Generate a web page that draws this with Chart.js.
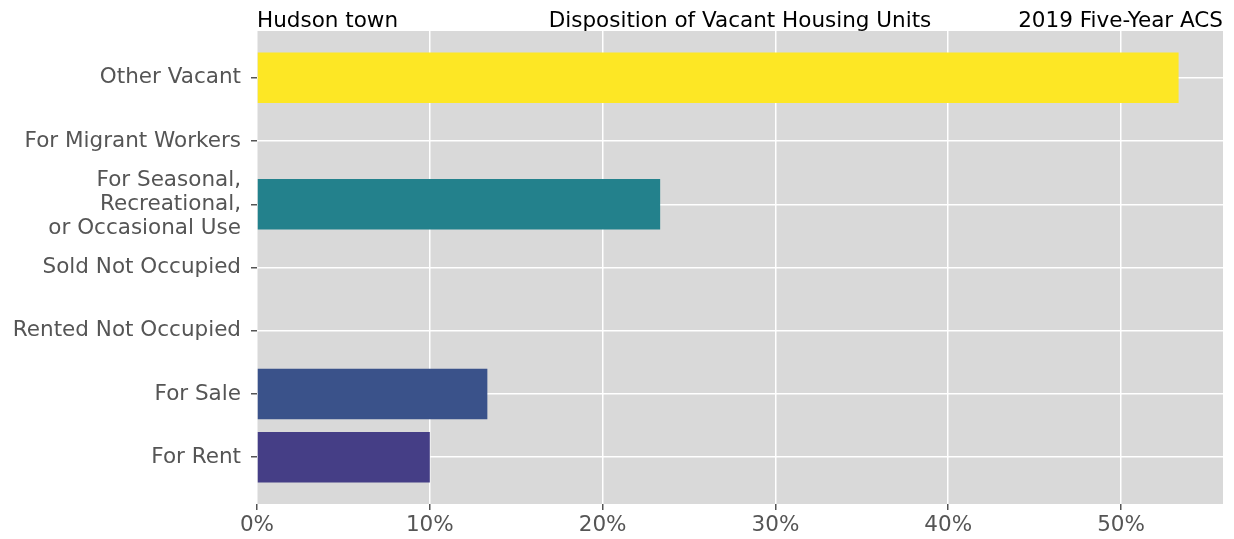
<!DOCTYPE html>
<html>
<head>
<meta charset="utf-8">
<script src="https://cdn.jsdelivr.net/npm/chart.js@4"></script>
<style>
	html, body { margin: 0; padding: 0; background: #fff; }
	#wrap { width: 1234px; height: 539px; position: relative; }
</style>
</head>
<body>
<div id="wrap"><canvas id="vacancyChart"></canvas></div>
<script>
// categories listed top to bottom
const categories = [
	'Other Vacant',
	'For Migrant Workers',
	['For Seasonal,', 'Recreational,', 'or Occasional Use'],
	'Sold Not Occupied',
	'Rented Not Occupied',
	'For Sale',
	'For Rent'
];
const shares = [53.33, 0, 23.33, 0, 0, 13.33, 10.0];
const barColors = ['#fde725', '#2a788e', '#23818c', '#414487', '#414487', '#3a528a', '#453e86'];
const xTicks = [0, 10, 20, 30, 40, 50];

const titleLeft = 'Hudson town';
const titleCenter = 'Disposition of Vacant Housing Units';
const titleRight = '2019 Five-Year ACS';

const FONT = '"DejaVu Sans", sans-serif';
const FSIZE = 21.5;

// gray panel behind the plot + the three header texts
const panelPlugin = {
	id: 'panel',
	beforeDraw(chart) {
		const { ctx, chartArea: a } = chart;
		ctx.save();
		ctx.fillStyle = '#d9d9d9';
		ctx.fillRect(a.left, a.top, a.right - a.left, a.bottom - a.top);
		ctx.restore();
	},
	afterDraw(chart) {
		const { ctx, chartArea: a } = chart;
		ctx.save();
		ctx.fillStyle = '#000';
		ctx.font = FSIZE + 'px ' + FONT;
		ctx.textBaseline = 'alphabetic';
		const y = a.top - 4;
		ctx.textAlign = 'left';
		ctx.fillText(titleLeft, a.left, y);
		ctx.textAlign = 'center';
		ctx.fillText(titleCenter, (a.left + a.right) / 2, y);
		ctx.textAlign = 'right';
		ctx.fillText(titleRight, a.right, y);
		ctx.restore();
	}
};

function initVacancyChart() {
	const ctx = document.getElementById('vacancyChart').getContext('2d');
	new Chart(ctx, {
		type: 'bar',
		data: {
			datasets: [{
				data: shares.map((v, i) => ({ x: v, y: i })),
				backgroundColor: barColors,
				borderWidth: 0,
				categoryPercentage: 0.8,
				barPercentage: 1.0
			}]
		},
		options: {
			indexAxis: 'y',
			responsive: true,
			maintainAspectRatio: false,
			animation: false,
			layout: { padding: { top: 31, right: 11, bottom: 0, left: 0 } },
			plugins: {
				legend: { display: false },
				tooltip: { enabled: false }
			},
			scales: {
				x: {
					type: 'linear',
					min: 0,
					max: 55.9,
					afterBuildTicks(scale) {
						scale.ticks = xTicks.map(v => ({ value: v }));
					},
					afterFit(scale) { scale.height = 35; },
					grid: { color: '#ffffff', lineWidth: 1.5, tickColor: '#555555', tickLength: 6, drawTicks: true },
					border: { display: false },
					ticks: {
						color: '#555555',
						font: { family: FONT, size: FSIZE },
						padding: 3,
						callback: v => v + '%'
					}
				},
				y: {
					type: 'linear',
					min: -0.74,
					max: 6.74,
					offset: false,
					reverse: true,
					afterBuildTicks(scale) {
						scale.ticks = categories.map((_, i) => ({ value: i }));
					},
					afterFit(scale) { scale.width = 257; },
					grid: { color: '#ffffff', lineWidth: 1.5, tickColor: '#555555', tickLength: 6, drawTicks: true, offset: false },
					border: { display: false },
					ticks: {
						color: '#555555',
						autoSkip: false,
						font: { family: FONT, size: FSIZE, lineHeight: 1.12 },
						padding: 10,
						callback: v => categories[v]
					}
				}
			}
		},
		plugins: [panelPlugin]
	});
}

document.addEventListener('DOMContentLoaded', initVacancyChart);
</script>
</body>
</html>
